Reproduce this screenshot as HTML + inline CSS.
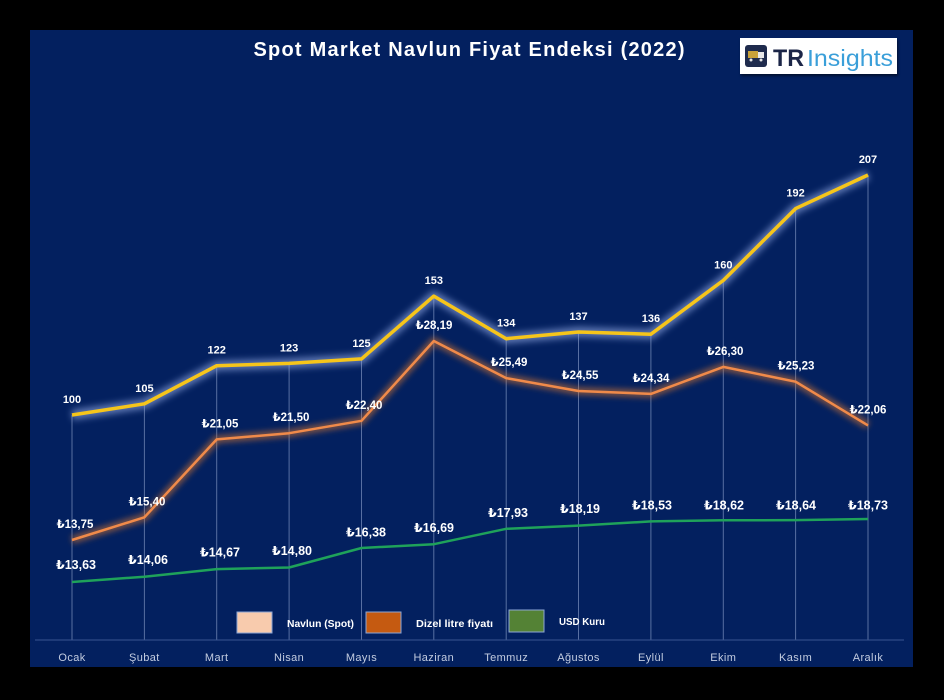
<!DOCTYPE html>
<html><head><meta charset="utf-8"><style>
html,body{margin:0;padding:0;background:#000;}
svg{display:block;}
text{font-family:"Liberation Sans","DejaVu Sans",sans-serif;}
</style></head><body>
<svg width="944" height="700" viewBox="0 0 944 700" xmlns="http://www.w3.org/2000/svg">
<defs>
<filter id="gy" x="-10%" y="-30%" width="120%" height="160%"><feGaussianBlur stdDeviation="3.5"/></filter>
<filter id="go" x="-10%" y="-30%" width="120%" height="160%"><feGaussianBlur stdDeviation="3"/></filter>
<filter id="sh" x="-10%" y="-20%" width="120%" height="150%"><feGaussianBlur stdDeviation="1.2"/></filter>
</defs>
<rect x="0" y="0" width="944" height="700" fill="#000"/>
<rect x="30" y="30" width="883" height="637" fill="#03205f"/>

<!-- title -->
<text x="469" y="56" text-anchor="middle" font-size="20" font-weight="bold" fill="#ffffff" textLength="431" lengthAdjust="spacing">Spot Market Navlun Fiyat Endeksi (2022)</text>

<!-- logo -->
<rect x="741" y="40" width="157" height="36" fill="#000" opacity="0.5" filter="url(#sh)"/>
<rect x="740" y="38" width="157" height="36" fill="#ffffff"/>
<rect x="745" y="45" width="22" height="22" rx="3" fill="#1f2b4d"/>
<rect x="748" y="51" width="10" height="7" fill="#c9a23a"/>
<rect x="758" y="52" width="6" height="6" fill="#e8e8e8"/>
<circle cx="751" cy="60" r="1.5" fill="#e8e8e8"/><circle cx="761" cy="60" r="1.5" fill="#e8e8e8"/>
<text x="773" y="66" font-size="24" font-weight="bold" fill="#1b2547" textLength="31" lengthAdjust="spacingAndGlyphs">TR</text>
<text x="807" y="66" font-size="23" fill="#3a9fd9" textLength="86" lengthAdjust="spacingAndGlyphs">Insights</text>

<!-- drop lines -->
<g stroke="#9fb0d8" stroke-opacity="0.55" stroke-width="1">
<line x1="72" y1="415" x2="72" y2="640"/>
<line x1="144.4" y1="403.8" x2="144.4" y2="640"/>
<line x1="216.7" y1="365.7" x2="216.7" y2="640"/>
<line x1="289.1" y1="363.4" x2="289.1" y2="640"/>
<line x1="361.5" y1="358.9" x2="361.5" y2="640"/>
<line x1="433.8" y1="296.1" x2="433.8" y2="640"/>
<line x1="506.2" y1="338.7" x2="506.2" y2="640"/>
<line x1="578.5" y1="332" x2="578.5" y2="640"/>
<line x1="650.9" y1="334.2" x2="650.9" y2="640"/>
<line x1="723.3" y1="280.4" x2="723.3" y2="640"/>
<line x1="795.6" y1="208.6" x2="795.6" y2="640"/>
<line x1="868" y1="175" x2="868" y2="640"/>
</g>
<!-- axis -->
<line x1="35" y1="640" x2="904" y2="640" stroke="#3a5590" stroke-width="1"/>

<!-- orange series -->
<polyline points="72,540 144.4,517.3 216.7,439.4 289.1,433.2 361.5,420.8 433.8,341 506.2,378.1 578.5,391 650.9,393.9 723.3,366.9 795.6,381.7 868,425.4" fill="none" stroke="#d8782f" stroke-opacity="0.55" stroke-width="8" stroke-linejoin="round" filter="url(#go)"/>
<polyline points="72,540 144.4,517.3 216.7,439.4 289.1,433.2 361.5,420.8 433.8,341 506.2,378.1 578.5,391 650.9,393.9 723.3,366.9 795.6,381.7 868,425.4" fill="none" stroke="#f08a4a" stroke-width="2.5" stroke-linejoin="round"/>

<!-- yellow series -->
<polyline points="72,415 144.4,403.8 216.7,365.7 289.1,363.4 361.5,358.9 433.8,296.1 506.2,338.7 578.5,332 650.9,334.2 723.3,280.4 795.6,208.6 868,175" fill="none" stroke="#8fa6e0" stroke-opacity="0.65" stroke-width="10" stroke-linejoin="round" filter="url(#gy)"/>
<polyline points="72,415 144.4,403.8 216.7,365.7 289.1,363.4 361.5,358.9 433.8,296.1 506.2,338.7 578.5,332 650.9,334.2 723.3,280.4 795.6,208.6 868,175" fill="none" stroke="#f6c51a" stroke-width="3.5" stroke-linejoin="round"/>

<!-- green series -->
<polyline points="72,582 144.4,576.7 216.7,569.1 289.1,567.5 361.5,548 433.8,544.2 506.2,528.8 578.5,525.6 650.9,521.4 723.3,520.3 795.6,520.1 868,519" fill="none" stroke="#1fa25a" stroke-width="2.5" stroke-linejoin="round"/>

<!-- yellow labels -->
<g font-size="11" font-weight="bold" fill="#ffffff" text-anchor="middle">
<text x="72" y="403">100</text>
<text x="144.4" y="391.8">105</text>
<text x="216.7" y="353.7">122</text>
<text x="289.1" y="351.4">123</text>
<text x="361.5" y="346.9">125</text>
<text x="433.8" y="284.1">153</text>
<text x="506.2" y="326.7">134</text>
<text x="578.5" y="320">137</text>
<text x="650.9" y="322.2">136</text>
<text x="723.3" y="268.4">160</text>
<text x="795.6" y="196.6">192</text>
<text x="868" y="163">207</text>
</g>
<!-- orange labels -->
<g font-size="11.5" font-weight="bold" fill="#ffffff" text-anchor="middle">
<text x="75" y="528">₺13,75</text>
<text x="147" y="505.3">₺15,40</text>
<text x="220" y="427.4">₺21,05</text>
<text x="291" y="421.2">₺21,50</text>
<text x="364" y="408.8">₺22,40</text>
<text x="434" y="329">₺28,19</text>
<text x="509" y="366.1">₺25,49</text>
<text x="580" y="379">₺24,55</text>
<text x="651" y="381.9">₺24,34</text>
<text x="725" y="354.9">₺26,30</text>
<text x="796" y="369.7">₺25,23</text>
<text x="868" y="413.4">₺22,06</text>
</g>
<!-- green labels -->
<g font-size="12.5" font-weight="bold" fill="#ffffff" text-anchor="middle">
<text x="76" y="569">₺13,63</text>
<text x="148" y="564">₺14,06</text>
<text x="220" y="556.5">₺14,67</text>
<text x="292" y="555">₺14,80</text>
<text x="366" y="536.5">₺16,38</text>
<text x="434" y="532">₺16,69</text>
<text x="508" y="517">₺17,93</text>
<text x="580" y="513">₺18,19</text>
<text x="652" y="509.5">₺18,53</text>
<text x="724" y="509.5">₺18,62</text>
<text x="796" y="509.5">₺18,64</text>
<text x="868" y="509.5">₺18,73</text>
</g>

<!-- legend -->
<rect x="237" y="612" width="35" height="21" fill="#f8cbad" stroke="#8ea6d4" stroke-width="1"/>
<text x="287" y="627" font-size="10" font-weight="bold" fill="#ffffff" textLength="67" lengthAdjust="spacingAndGlyphs">Navlun (Spot)</text>
<rect x="366" y="612" width="35" height="21" fill="#c55a11" stroke="#8ea6d4" stroke-width="1"/>
<text x="416" y="627" font-size="10" font-weight="bold" fill="#ffffff" textLength="77" lengthAdjust="spacingAndGlyphs">Dizel  litre fiyatı</text>
<rect x="509" y="610" width="35" height="22" fill="#548235" stroke="#8ea6d4" stroke-width="1"/>
<text x="559" y="625" font-size="10" font-weight="bold" fill="#ffffff" textLength="46" lengthAdjust="spacingAndGlyphs">USD Kuru</text>

<!-- x labels -->
<g font-size="11" fill="#c3cce0" text-anchor="middle" letter-spacing="0.4">
<text x="72" y="661">Ocak</text>
<text x="144.4" y="661">Şubat</text>
<text x="216.7" y="661">Mart</text>
<text x="289.1" y="661">Nisan</text>
<text x="361.5" y="661">Mayıs</text>
<text x="433.8" y="661">Haziran</text>
<text x="506.2" y="661">Temmuz</text>
<text x="578.5" y="661">Ağustos</text>
<text x="650.9" y="661">Eylül</text>
<text x="723.3" y="661">Ekim</text>
<text x="795.6" y="661">Kasım</text>
<text x="868" y="661">Aralık</text>
</g>
</svg>
</body></html>
